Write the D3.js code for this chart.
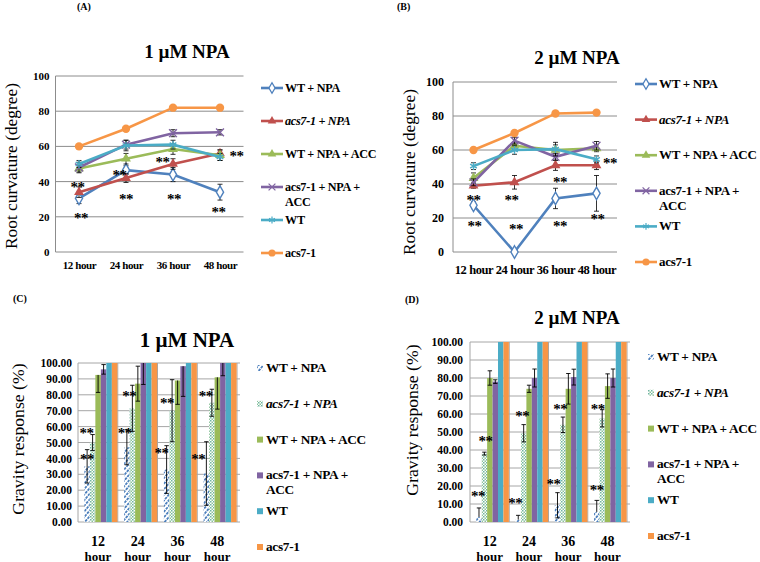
<!DOCTYPE html>
<html><head><meta charset="utf-8">
<script src="https://cdn.jsdelivr.net/npm/d3@7"></script>
<style>body{margin:0;background:#fff} svg{display:block} text{font-family:"Liberation Serif","Times New Roman",serif;fill:#000}</style>
</head><body><svg id="c" width="760" height="562"></svg>
<script>
// ---------- DATA ----------
const hours = ["12 hour","24 hour","36 hour","48 hour"];
const barHours = ["12","24","36","48"];
const seriesNames = ["WT + NPA","acs7-1 + NPA","WT + NPA + ACC","acs7-1 + NPA + ACC","WT","acs7-1"];
const legendLines = [["WT + NPA"],["acs7-1 + NPA"],["WT + NPA + ACC"],["acs7-1 + NPA +","ACC"],["WT"],["acs7-1"]];
const legendItalic = [false,true,false,false,false,false];
const colors = ["#4F81BD","#C0504D","#9BBB59","#8064A2","#4BACC6","#F79646"];
const yTicksLine = [0,20,40,60,80,100];
const yTicksBar = [0,10,20,30,40,50,60,70,80,90,100];

// (A) root curvature, 1 µM NPA
const a_wtNpa = [30.5,46.5,44,34],   a_wtNpaErr = [3,2.5,4,4.5];
const a_acsNpa = [34,42,50,56],      a_acsNpaErr = [3,2.5,3,2];
const a_wtAcc = [47.5,53,58.5,55],   a_wtAccErr = [2,3,3,3];
const a_acsAcc = [48,61,67.5,68],    a_acsAccErr = [3,2.5,2,1.5];
const a_wt = [50,60.5,61,54],        a_wtErr = [2,3,2.5,2];
const a_acs = [60,70,82,82],         a_acsErr = [1,1,1,1];
const a_starsLow = [21.7,32.5,32.5,25];
const a_starsHigh = [39,46,53,56.4];

// (B) root curvature, 2 µM NPA
const b_wtNpa = [27.5,0,31.5,34.5],  b_wtNpaErr = [2,0,6,10.5];
const b_acsNpa = [39,41,51,51],      b_acsNpaErr = [1.5,4,3,2.5];
const b_wtAcc = [43.5,62.5,60,61],   b_wtAccErr = [3,2,3,2];
const b_acsAcc = [41,65.5,56,62.5],  b_acsAccErr = [2,2,2,2.5];
const b_wt = [50.5,60,60.5,54.5],    b_wtErr = [2,2.5,4,2];
const b_acs = [60,70,81.5,82],       b_acsErr = [1,1,1,1];
const b_starsLow = [17.6,15.7,17.6,21.4];
const b_starsHigh = [32.7,32.7,43.5,54.7];

// (C) gravity response, 1 µM NPA
const c_wtNpa = [35,47,33,30.5],     c_wtNpaErr = [10.5,11,15,20];
const c_acsNpa = [50,71.5,70,75],    c_acsNpaErr = [5,14.5,19.5,8.5];
const c_wtAcc = [92.5,87,89,91],     c_wtAccErr = [11,11,15,20];
const c_acsAcc = [96,100,98,100],    c_acsAccErr = [3,13.5,19,8];
const c_wt = [100,100,100,100],      c_wtErr = [0,0,0,0];
const c_acs = [100,100,100,100],     c_acsErr = [0,0,0,0];
const c_starsLow = [41.7,58,45.5,41.7];
const c_starsHigh = [58.2,81.5,77,81.5];

// (D) gravity response, 2 µM NPA
const d_wtNpa = [2.8,1.3,9.3,5.6],   d_wtNpaErr = [5,2.4,7,6.4];
const d_acsNpa = [38,49.3,54,57.6],  d_acsNpaErr = [0.8,4.8,4.3,4.8];
const d_wtAcc = [80,74,74,75.5],     d_wtAccErr = [4,2,8.5,6.8];
const d_acsAcc = [78,80,80.5,80],    d_acsAccErr = [1,5,4.4,5];
const d_wt = [100,100,100,100],      d_wtErr = [0,0,0,0];
const d_acs = [100,100,100,100],     d_acsErr = [0,0,0,0];
const d_starsLow = [16.4,12.5,23.2,19.9];
const d_starsHigh = [47,61,64.7,64.7];

// ---------- DRAWING ----------
const FONT = '"Liberation Serif","Times New Roman",serif';
const svg = d3.select("#c");
const defs = svg.append("defs");
const hatch = defs.append("pattern").attr("id","hatch").attr("patternUnits","userSpaceOnUse")
  .attr("width",3.6).attr("height",3.6).attr("patternTransform","rotate(40)");
hatch.append("rect").attr("width",3.6).attr("height",3.6).attr("fill","#fff");
hatch.append("line").attr("x1",0.9).attr("x2",0.9).attr("y1",0).attr("y2",2.7).attr("stroke",colors[0]).attr("stroke-width",1.8);
const dots = defs.append("pattern").attr("id","dots").attr("patternUnits","userSpaceOnUse").attr("width",3).attr("height",3);
dots.append("rect").attr("width",3).attr("height",3).attr("fill","#fff");
dots.append("rect").attr("width",1.5).attr("height",1.5).attr("fill","#6fb5a0");
dots.append("rect").attr("x",1.5).attr("y",1.5).attr("width",1.5).attr("height",1.5).attr("fill","#8cc39a");
const barFills = ["url(#hatch)","url(#dots)",colors[2],colors[3],colors[4],colors[5]];

function label(txt, x, y, size, opts={}) {
  const t = svg.append("text").attr("x",x).attr("y",y).attr("font-size",size)
    .attr("font-family",FONT).attr("fill","#000")
    .attr("font-weight",opts.bold===false?"normal":"bold")
    .attr("text-anchor",opts.anchor||"start").text(txt);
  if (opts.italic) t.attr("font-style","italic");
  if (opts.rotate) t.attr("transform",`rotate(-90,${x},${y})`);
  return t;
}

function drawStars(g, xs, ys, vals, offs, size) {
  g.selectAll(null).data(vals).join("text")
    .attr("x",(d,i)=>xs(i)+offs[i]).attr("y",d=>ys(d)+size*0.58)
    .attr("text-anchor","middle").attr("font-size",size).attr("font-weight","bold")
    .attr("font-family",FONT).attr("fill","#000")
    .attr("letter-spacing",-0.5).text("**");
}

function lineChart(o) {
  const g = svg.append("g");
  const x = d3.scalePoint().domain(hours).range([o.x0,o.x1]).padding(0.5);
  const y = d3.scaleLinear().domain([0,100]).range([o.y1,o.y0]);
  g.selectAll(null).data(yTicksLine).join("line")
    .attr("x1",o.x0).attr("x2",o.x1).attr("y1",d=>y(d)).attr("y2",d=>y(d))
    .attr("stroke","#8c8c8c").attr("stroke-width",1);
  g.append("line").attr("x1",o.x0).attr("x2",o.x0).attr("y1",o.y0).attr("y2",o.y1).attr("stroke","#8c8c8c");
  const ya = g.append("g").attr("transform",`translate(${o.x0},0)`)
    .call(d3.axisLeft(y).tickValues(yTicksLine).tickSize(0).tickPadding(o.tickPad));
  ya.select(".domain").remove();
  ya.attr("font-family",FONT).attr("font-size",o.tickFs).attr("font-weight","bold");
  const xa = g.append("g").attr("transform",`translate(0,${o.y1})`)
    .call(d3.axisBottom(x).tickSize(0).tickPadding(o.xPad));
  xa.select(".domain").remove();
  xa.attr("font-family",FONT).attr("font-size",o.xFs).attr("font-weight","bold");
  xa.selectAll("text").attr("letter-spacing",-0.4);

  const symbols = [d3.symbolDiamond,d3.symbolTriangle,d3.symbolTriangle,d3.symbolX,d3.symbolAsterisk,d3.symbolCircle];
  const line = d3.line().x((d,i)=>x(hours[i])).y(d=>y(d));
  o.series.forEach((s,k)=>{
    const sg = g.append("g");
    sg.append("path").attr("d",line(s.v)).attr("fill","none").attr("stroke",colors[k]).attr("stroke-width",2.6);
    s.v.forEach((v,i)=>{
      const e = s.e[i]; if (!e) return;
      const cx = x(hours[i]);
      sg.append("line").attr("x1",cx).attr("x2",cx).attr("y1",y(v-e)).attr("y2",y(v+e)).attr("stroke","#000").attr("stroke-width",0.8);
      [v-e,v+e].forEach(w=>sg.append("line").attr("x1",cx-2.5).attr("x2",cx+2.5).attr("y1",y(w)).attr("y2",y(w)).attr("stroke","#000").attr("stroke-width",0.8));
    });
    sg.selectAll(null).data(s.v).join("path")
      .attr("transform",(d,i)=>`translate(${x(hours[i])},${y(d)})`)
      .attr("d",d3.symbol().type(symbols[k]).size(k===5?55:k===0?45:42))
      .attr("fill",k===0?"#fff":(k===3||k===4)?"none":colors[k])
      .attr("stroke",colors[k]).attr("stroke-width",k===0?1.4:(k===3||k===4)?1.4:0);
  });
  const xi = i=>x(hours[i]);
  drawStars(g, xi, y, o.starsLow, o.offLow, o.starFs);
  drawStars(g, xi, y, o.starsHigh, o.offHigh, o.starFs);

  // legend
  legendLines.forEach((lines,k)=>{
    const ly = o.legY + k*o.legDy;
    g.append("line").attr("x1",o.legX).attr("x2",o.legX+22).attr("y1",ly).attr("y2",ly).attr("stroke",colors[k]).attr("stroke-width",2.6);
    g.append("path").attr("transform",`translate(${o.legX+11},${ly})`)
      .attr("d",d3.symbol().type(symbols[k]).size(k===5?40:32))
      .attr("fill",k===0?"#fff":(k===3||k===4)?"none":colors[k])
      .attr("stroke",colors[k]).attr("stroke-width",k===0?1.3:(k===3||k===4)?1.2:0);
    lines.forEach((t,j)=>label(t,o.legX+24,ly+4+j*15,o.legFs,{italic:legendItalic[k]}).attr("letter-spacing",-0.3));
  });
  label(o.title,o.titleX,o.titleY,19,{anchor:"middle"});
  label(o.ylab,o.ylabX,o.ylabY,17.4,{anchor:"middle",bold:false,rotate:true});
}

function barChart(o) {
  const g = svg.append("g");
  const x = d3.scaleBand().domain(barHours).range([o.x0,o.x1]).padding(0);
  const bw = x.bandwidth();
  const xs = d3.scaleBand().domain(d3.range(6)).range([bw*0.16,bw*0.99]).padding(0);
  const y = d3.scaleLinear().domain([0,100]).range([o.y1,o.y0]);
  g.selectAll(null).data(yTicksBar).join("line")
    .attr("x1",o.x0).attr("x2",o.x1+3).attr("y1",d=>y(d)).attr("y2",d=>y(d))
    .attr("stroke","#a6a6a6").attr("stroke-width",1);
  g.selectAll(null).data(d3.range(5)).join("line")
    .attr("x1",d=>o.x0+d*bw).attr("x2",d=>o.x0+d*bw).attr("y1",o.y0).attr("y2",o.y1)
    .attr("stroke","#a6a6a6").attr("stroke-width",1);
  const ya = g.append("g").attr("transform",`translate(${o.x0},0)`)
    .call(d3.axisLeft(y).tickValues(yTicksBar).tickFormat(d3.format(".2f")).tickSize(0).tickPadding(o.tickPad));
  ya.select(".domain").remove();
  ya.attr("font-family",FONT).attr("font-size",o.tickFs).attr("font-weight","bold");
  // x labels (two lines)
  barHours.forEach(h=>{
    label(h, x(h)+bw/2, o.y1+24, 14, {anchor:"middle"});
    label("hour", x(h)+bw/2, o.y1+38.5, 13, {anchor:"middle"});
  });
  o.series.forEach((s,k)=>{
    g.selectAll(null).data(s.v).join("rect")
      .attr("x",(d,i)=>x(barHours[i])+xs(k)).attr("width",xs.bandwidth())
      .attr("y",d=>y(d)).attr("height",d=>y(0)-y(d)).attr("fill",barFills[k]);
  });
  o.series.forEach((s,k)=>{
    s.v.forEach((v,i)=>{
      const e = s.e[i]; if (!e) return;
      const cx = x(barHours[i])+xs(k)+xs.bandwidth()/2;
      const lo = v-e < 0 ? v : v-e;
      const hi = v+e > 100 ? v : v+e;
      g.append("line").attr("x1",cx).attr("x2",cx).attr("y1",y(lo)).attr("y2",y(hi)).attr("stroke","#000").attr("stroke-width",0.9);
      [lo,hi].forEach(w=>{ if (w!==v || lo===hi) g.append("line").attr("x1",cx-2.2).attr("x2",cx+2.2).attr("y1",y(w)).attr("y2",y(w)).attr("stroke","#000").attr("stroke-width",0.9); });
    });
  });
  const bx = k => i => x(barHours[i])+xs(k)+xs.bandwidth()/2;
  drawStars(g, bx(0), y, o.starsLow, o.offLow, 15);
  drawStars(g, bx(1), y, o.starsHigh, o.offHigh, 15);
  // legend
  legendLines.forEach((lines,k)=>{
    const ly = o.legY + k*o.legDy;
    g.append("rect").attr("x",o.legX).attr("y",ly-3).attr("width",6).attr("height",6).attr("fill",barFills[k]);
    lines.forEach((t,j)=>label(t,o.legX+9,ly+4+j*15,o.legFs,{italic:legendItalic[k]}).attr("letter-spacing",-0.3));
  });
  label(o.title,o.titleX,o.titleY,o.titleFs,{anchor:"middle"});
  label(o.ylab,o.ylabX,o.ylabY,17.7,{anchor:"middle",bold:false,rotate:true});
}

lineChart({x0:55.5,x1:243.5,y0:76,y1:252,tickPad:6,tickFs:11,xPad:9,xFs:11,
  series:[{v:a_wtNpa,e:a_wtNpaErr},{v:a_acsNpa,e:a_acsNpaErr},{v:a_wtAcc,e:a_wtAccErr},{v:a_acsAcc,e:a_acsAccErr},{v:a_wt,e:a_wtErr},{v:a_acs,e:a_acsErr}],
  starsLow:a_starsLow,starsHigh:a_starsHigh,offLow:[2,0,1,-1.5],offHigh:[-1.5,-6.5,-10.5,16.5],starFs:15,
  legX:261,legY:88,legDy:33,legFs:12.2,title:"1 µM NPA",titleX:187,titleY:58,
  ylab:"Root curvature (degree)",ylabX:17,ylabY:166});

lineChart({x0:453,x1:617,y0:82,y1:252,tickPad:9,tickFs:12,xPad:13,xFs:12.5,
  series:[{v:b_wtNpa,e:b_wtNpaErr},{v:b_acsNpa,e:b_acsNpaErr},{v:b_wtAcc,e:b_wtAccErr},{v:b_acsAcc,e:b_acsAccErr},{v:b_wt,e:b_wtErr},{v:b_acs,e:b_acsErr}],
  starsLow:b_starsLow,starsHigh:b_starsHigh,offLow:[1,1.5,4.5,1],offHigh:[0,-3,4.5,13.5],starFs:15,
  legX:635,legY:84,legDy:35.6,legFs:13,title:"2 µM NPA",titleX:577,titleY:64,
  ylab:"Root curvature (degree)",ylabX:415,ylabY:172});

barChart({x0:78,x1:237,y0:363,y1:522,tickPad:6,tickFs:11.5,
  series:[{v:c_wtNpa,e:c_wtNpaErr},{v:c_acsNpa,e:c_acsNpaErr},{v:c_wtAcc,e:c_wtAccErr},{v:c_acsAcc,e:c_acsAccErr},{v:c_wt,e:c_wtErr},{v:c_acs,e:c_acsErr}],
  starsLow:c_starsLow,starsHigh:c_starsHigh,offLow:[0,-2,-5,-8],offHigh:[-6,-3,-5,-6],
  legX:257,legY:368,legDy:35.8,legFs:13.3,title:"1 µM NPA",titleX:187,titleY:347,titleFs:21,
  ylab:"Gravity response (%)",ylabX:24,ylabY:439});

barChart({x0:470,x1:627,y0:342,y1:522,tickPad:7,tickFs:11.5,
  series:[{v:d_wtNpa,e:d_wtNpaErr},{v:d_acsNpa,e:d_acsNpaErr},{v:d_wtAcc,e:d_wtAccErr},{v:d_acsAcc,e:d_acsAccErr},{v:d_wt,e:d_wtErr},{v:d_acs,e:d_acsErr}],
  starsLow:d_starsLow,starsHigh:d_starsHigh,offLow:[-1,-3,-4,0],offHigh:[1,-1.3,-2.7,-4.3],
  legX:648,legY:357,legDy:35.8,legFs:13.3,title:"2 µM NPA",titleX:577,titleY:324,titleFs:19,
  ylab:"Gravity response (%)",ylabX:418,ylabY:420});

label("(A)",77,10,10);
label("(B)",397,10,10);
label("(C)",13,302,10);
label("(D)",405,303,10);
</script></body></html>
